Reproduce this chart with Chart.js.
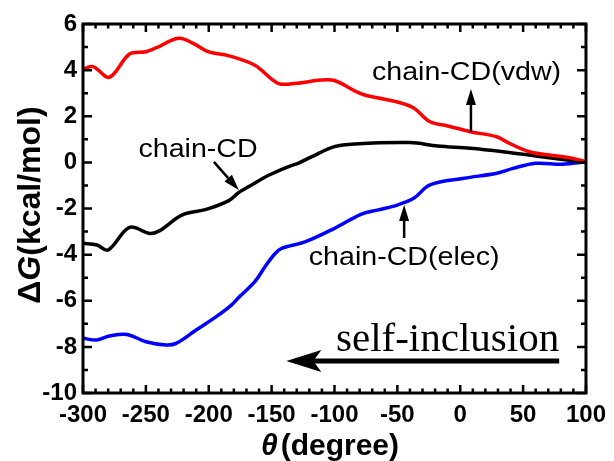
<!DOCTYPE html>
<html>
<head>
<meta charset="utf-8">
<script src="https://cdn.jsdelivr.net/npm/chart.js@4"></script>
<style>
    html, body { margin: 0; padding: 0; background: #fff; }
    #wrap { width: 614px; height: 461px; }
</style>
</head>
<body>
<div id="wrap"><canvas id="chart" width="614" height="461"></canvas></div>
<script>
// theta (degree) and dG (kcal/mol)
const vdwTheta = [-300, -292, -279, -263, -250, -242, -224, -212, -200, -184, -163, -145, -130, -111, -100, -84, -76, -66, -50, -37, -24, -10, 8, 29, 39, 55, 71, 87, 100];
const vdwG = [4.05, 4.15, 3.69, 4.70, 4.80, 4.96, 5.38, 5.15, 4.79, 4.62, 4.20, 3.43, 3.43, 3.57, 3.55, 3.10, 2.92, 2.80, 2.62, 2.36, 1.76, 1.58, 1.33, 1.11, 0.83, 0.46, 0.32, 0.20, 0.03];

const totalTheta = [-300, -289, -280, -263, -247, -239, -221, -202, -184, -176, -168, -152, -137, -129, -118, -100, -84, -40, -18, 8, 34, 60, 100];
const totalG = [-3.51, -3.58, -3.80, -2.82, -3.08, -2.96, -2.28, -2.04, -1.66, -1.30, -1.05, -0.55, -0.19, -0.04, 0.25, 0.68, 0.80, 0.86, 0.71, 0.61, 0.46, 0.28, 0.00];

const elecTheta = [-300, -289, -279, -265, -250, -234, -226, -210, -194, -182, -176, -163, -155, -147, -142, -123, -100, -79, -66, -50, -37, -24, 3, 29, 42, 60, 81, 100];
const elecG = [-7.63, -7.70, -7.53, -7.46, -7.78, -7.92, -7.85, -7.27, -6.69, -6.19, -5.85, -5.15, -4.50, -3.94, -3.73, -3.44, -2.86, -2.25, -2.07, -1.85, -1.56, -0.98, -0.69, -0.47, -0.26, -0.04, -0.08, 0.02];

const xTicks = { min: -300, max: 100, major: 50, minor: 10 };
const yTicks = { min: -10, max: 6, major: 2, minor: 1 };

// labels and arrows, placed in data units
const labels = [
    { text: 'chain-CD', x: -208.5, y: 0.22, align: 'center' },
    { text: 'chain-CD(vdw)', x: 5, y: 3.57, align: 'center' },
    { text: 'chain-CD(elec)', x: -44.6, y: -4.45, align: 'center' },
];
const arrows = [
    { from: [-195.9, 0.02], to: [-176.1, -1.2] },
    { from: [8.5, 1.33], to: [8.5, 3.18] },
    { from: [-44.6, -3.28], to: [-44.6, -1.85] },
];

function toPoints(xs, ys) {
    return xs.map((x, i) => ({ x, y: ys[i] }));
}

function drawArrow(ctx, x1, y1, x2, y2, headLen, headHalf, width) {
    const ang = Math.atan2(y2 - y1, x2 - x1);
    const bx = x2 - Math.cos(ang) * headLen;
    const by = y2 - Math.sin(ang) * headLen;
    ctx.lineWidth = width;
    ctx.beginPath();
    ctx.moveTo(x1, y1);
    ctx.lineTo(bx, by);
    ctx.stroke();
    ctx.beginPath();
    ctx.moveTo(x2, y2);
    ctx.lineTo(bx + Math.sin(ang) * headHalf, by - Math.cos(ang) * headHalf);
    ctx.lineTo(bx - Math.sin(ang) * headHalf, by + Math.cos(ang) * headHalf);
    ctx.closePath();
    ctx.fill();
}

const decorPlugin = {
    id: 'decor',
    afterDraw(chart) {
        const { ctx, chartArea: a, scales } = chart;
        const sx = scales.x, sy = scales.y;
        ctx.save();
        ctx.strokeStyle = '#000';
        ctx.fillStyle = '#000';
        ctx.lineCap = 'butt';

        // inward ticks on all four sides
        ctx.lineWidth = 2.5;
        ctx.beginPath();
        for (let v = xTicks.min; v <= xTicks.max; v += xTicks.minor) {
            const px = sx.getPixelForValue(v);
            const len = v % xTicks.major === 0 ? 8 : 4.5;
            ctx.moveTo(px, a.bottom); ctx.lineTo(px, a.bottom - len);
            ctx.moveTo(px, a.top); ctx.lineTo(px, a.top + len);
        }
        for (let v = yTicks.min; v <= yTicks.max; v += yTicks.minor) {
            const py = sy.getPixelForValue(v);
            const len = v % yTicks.major === 0 ? 9 : 5;
            ctx.moveTo(a.left, py); ctx.lineTo(a.left + len, py);
            ctx.moveTo(a.right, py); ctx.lineTo(a.right - len, py);
        }
        ctx.stroke();

        // frame
        ctx.lineWidth = 3;
        ctx.strokeRect(a.left, a.top, a.right - a.left, a.bottom - a.top);

        // curve labels
        ctx.font = '26px "Liberation Sans", Arial, sans-serif';
        ctx.textBaseline = 'alphabetic';
        labels.forEach((l) => {
            const px = sx.getPixelForValue(l.x);
            const py = sy.getPixelForValue(l.y);
            ctx.save();
            ctx.translate(px, py);
            ctx.scale(1.1, 1);
            ctx.textAlign = l.align;
            ctx.fillText(l.text, 0, 0);
            ctx.restore();
        });
        arrows.forEach((ar) => {
            drawArrow(ctx,
                sx.getPixelForValue(ar.from[0]), sy.getPixelForValue(ar.from[1]),
                sx.getPixelForValue(ar.to[0]), sy.getPixelForValue(ar.to[1]),
                16, 5, 2.5);
        });

        // self-inclusion arrow
        ctx.font = '41px "Liberation Serif", "Times New Roman", serif';
        ctx.textAlign = 'left';
        ctx.fillText('self-inclusion', sx.getPixelForValue(-98.8), sy.getPixelForValue(-8.18));
        const ay = sy.getPixelForValue(-8.61);
        const tipX = sx.getPixelForValue(-138.3);
        const endX = sx.getPixelForValue(78.7);
        ctx.lineWidth = 5;
        ctx.beginPath();
        ctx.moveTo(endX, ay);
        ctx.lineTo(tipX + 20, ay);
        ctx.stroke();
        ctx.beginPath();
        ctx.moveTo(tipX, ay);
        ctx.lineTo(tipX + 35, ay - 11);
        ctx.lineTo(tipX + 27, ay);
        ctx.lineTo(tipX + 35, ay + 11);
        ctx.closePath();
        ctx.fill();

        // axis titles
        ctx.textBaseline = 'alphabetic';
        const bold = '"Liberation Sans", Arial, sans-serif';
        // x title
        ctx.font = 'italic bold 30px ' + bold;
        const thW = ctx.measureText('θ').width;
        ctx.font = 'bold 30px ' + bold;
        const restW = ctx.measureText('(degree)').width;
        let xs = 330 - (thW + 3 + restW) / 2;
        ctx.font = 'italic bold 30px ' + bold;
        ctx.fillText('θ', xs, 455);
        ctx.font = 'bold 30px ' + bold;
        ctx.fillText('(degree)', xs + thW + 3, 455);

        // y title
        ctx.save();
        ctx.translate(40, 205);
        ctx.rotate(-Math.PI / 2);
        ctx.font = 'bold 32px ' + bold;
        const dW = ctx.measureText('Δ').width;
        const tailW = ctx.measureText('(kcal/mol)').width;
        ctx.font = 'italic bold 32px ' + bold;
        const gW = ctx.measureText('G').width;
        let ys = -(dW + gW + tailW) / 2;
        ctx.font = 'bold 32px ' + bold;
        ctx.fillText('Δ', ys, 0);
        ctx.font = 'italic bold 32px ' + bold;
        ctx.fillText('G', ys + dW, 0);
        ctx.font = 'bold 32px ' + bold;
        ctx.fillText('(kcal/mol)', ys + dW + gW, 0);
        ctx.restore();

        ctx.restore();
    },
};

const tickFont = { family: '"Liberation Sans", Arial, sans-serif', size: 24, weight: 'bold' };

new Chart(document.getElementById('chart'), {
    type: 'scatter',
    data: {
        datasets: [
            { label: 'chain-CD(vdw)', data: toPoints(vdwTheta, vdwG), borderColor: '#ff0000' },
            { label: 'chain-CD', data: toPoints(totalTheta, totalG), borderColor: '#000000' },
            { label: 'chain-CD(elec)', data: toPoints(elecTheta, elecG), borderColor: '#0000ff' },
        ].map((d) => Object.assign(d, {
            showLine: true,
            pointRadius: 0,
            borderWidth: 3.5,
            tension: 0.35,
            fill: false,
        })),
    },
    options: {
        responsive: false,
        animation: false,
        devicePixelRatio: 1,
        layout: { padding: { top: 24, right: 24, left: 0, bottom: 0 } },
        plugins: { legend: { display: false }, tooltip: { enabled: false } },
        scales: {
            x: {
                type: 'linear',
                min: xTicks.min,
                max: xTicks.max,
                grid: { display: false, drawTicks: false },
                border: { display: false },
                ticks: {
                    stepSize: xTicks.major,
                    color: '#000',
                    font: tickFont,
                    padding: 8,
                    maxRotation: 0,
                },
                afterFit: (s) => { s.height = 68; },
            },
            y: {
                type: 'linear',
                min: yTicks.min,
                max: yTicks.max,
                grid: { display: false, drawTicks: false },
                border: { display: false },
                ticks: {
                    stepSize: yTicks.major,
                    color: '#000',
                    font: tickFont,
                    padding: 6,
                },
                afterFit: (s) => { s.width = 83; },
            },
        },
    },
    plugins: [decorPlugin],
});
</script>
</body>
</html>
